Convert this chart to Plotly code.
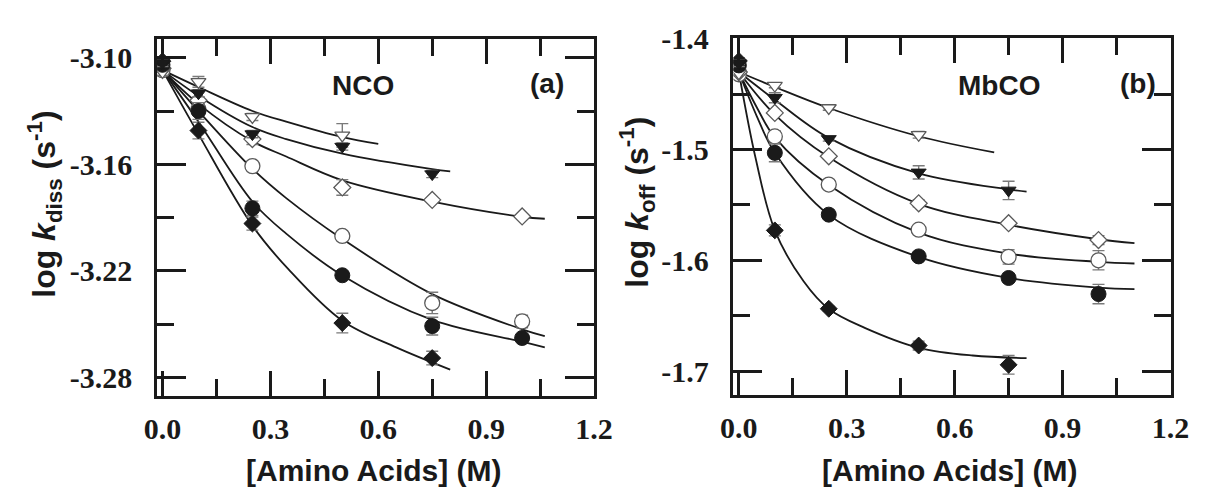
import plotly.graph_objects as go

# ---------------- data: NCO panel (a) ----------------
a_x_tri_open = [0, 0.1, 0.25, 0.5]
a_y_tri_open = [-3.108, -3.1136, -3.1333, -3.1437]
a_e_tri_open = [0.002, 0.003, 0.002, 0.0066]

a_x_tri_fill = [0, 0.1, 0.25, 0.5, 0.75]
a_y_tri_fill = [-3.103, -3.120, -3.143, -3.150, -3.1655]
a_e_tri_fill = [0.002, 0.002, 0.002, 0.002, 0.002]

a_x_dia_open = [0, 0.1, 0.25, 0.5, 0.75, 1.0]
a_y_dia_open = [-3.106, -3.124, -3.1458, -3.173, -3.180, -3.1893]
a_e_dia_open = [0.002, 0.002, 0.003, 0.0044, 0.001, 0.001]

a_x_circ_open = [0, 0.1, 0.25, 0.5, 0.75, 1.0]
a_y_circ_open = [-3.107, -3.129, -3.161, -3.2003, -3.238, -3.2484]
a_e_circ_open = [0.002, 0.002, 0.002, 0.002, 0.006, 0.0035]

a_x_circ_fill = [0, 0.1, 0.25, 0.5, 0.75, 1.0]
a_y_circ_fill = [-3.104, -3.130, -3.1847, -3.2224, -3.251, -3.2577]
a_e_circ_fill = [0.002, 0.0047, 0.004, 0.002, 0.005, 0.002]

a_x_dia_fill = [0, 0.1, 0.25, 0.5, 0.75]
a_y_dia_fill = [-3.102, -3.141, -3.1933, -3.2493, -3.269]
a_e_dia_fill = [0.002, 0.0047, 0.0037, 0.0055, 0.0038]

# fitted curves, panel (a)
a_fx_tri_open = [0, 0.1, 0.25, 0.344, 0.5, 0.6]
a_fy_tri_open = [-3.107, -3.1165, -3.130, -3.136, -3.1447, -3.1485]
a_fx_tri_fill = [0, 0.1, 0.25, 0.344, 0.5, 0.75, 0.8]
a_fy_tri_fill = [-3.107, -3.1215, -3.139, -3.1458, -3.154, -3.1627, -3.164]
a_fx_dia_open = [0, 0.1, 0.25, 0.344, 0.5, 0.75, 1.0, 1.063]
a_fy_dia_open = [-3.107, -3.126, -3.147, -3.1556, -3.169, -3.181, -3.1895, -3.1906]
a_fx_circ_open = [0, 0.1, 0.25, 0.344, 0.5, 0.75, 1.0, 1.063]
a_fy_circ_open = [-3.107, -3.130, -3.1625, -3.179, -3.202, -3.233, -3.2528, -3.2566]
a_fx_circ_fill = [0, 0.1, 0.25, 0.344, 0.5, 0.75, 1.0, 1.063]
a_fy_circ_fill = [-3.107, -3.136, -3.181, -3.199, -3.2225, -3.2475, -3.2598, -3.263]
a_fx_dia_fill = [0, 0.1, 0.25, 0.35, 0.5, 0.65, 0.8]
a_fy_dia_fill = [-3.107, -3.143, -3.1945, -3.219, -3.248, -3.263, -3.2755]

# ---------------- data: MbCO panel (b) ----------------
b_x_tri_open = [0, 0.1, 0.25, 0.5]
b_y_tri_open = [-1.431, -1.4422, -1.4625, -1.4867]
b_e_tri_open = [0.002, 0.002, 0.002, 0.003]

b_x_tri_fill = [0, 0.1, 0.25, 0.5, 0.75]
b_y_tri_fill = [-1.422, -1.4532, -1.4904, -1.5206, -1.5369]
b_e_tri_fill = [0.003, 0.0045, 0.002, 0.006, 0.0083]

b_x_dia_open = [0, 0.1, 0.25, 0.5, 0.75, 1.0]
b_y_dia_open = [-1.430, -1.4669, -1.5061, -1.5486, -1.5665, -1.5817]
b_e_dia_open = [0.002, 0.002, 0.002, 0.003, 0.002, 0.004]

b_x_circ_open = [0, 0.1, 0.25, 0.5, 0.75, 1.0]
b_y_circ_open = [-1.432, -1.4882, -1.5316, -1.5724, -1.597, -1.600]
b_e_circ_open = [0.002, 0.005, 0.002, 0.002, 0.0065, 0.0087]

b_x_circ_fill = [0, 0.1, 0.25, 0.5, 0.75, 1.0]
b_y_circ_fill = [-1.424, -1.503, -1.5588, -1.5965, -1.616, -1.6305]
b_e_circ_fill = [0.003, 0.008, 0.003, 0.003, 0.004, 0.0087]

b_x_dia_fill = [0, 0.1, 0.25, 0.5, 0.75]
b_y_dia_fill = [-1.420, -1.573, -1.6438, -1.677, -1.6944]
b_e_dia_fill = [0.003, 0.005, 0.002, 0.004, 0.0084]

# fitted curves, panel (b)
b_fx_tri_open = [0, 0.1, 0.25, 0.5, 0.71]
b_fy_tri_open = [-1.430, -1.4435, -1.4625, -1.488, -1.5026]
b_fx_tri_fill = [0, 0.1, 0.25, 0.5, 0.75, 0.8]
b_fy_tri_fill = [-1.430, -1.455, -1.4895, -1.5215, -1.536, -1.538]
b_fx_dia_open = [0, 0.1, 0.25, 0.5, 0.75, 1.0, 1.1]
b_fy_dia_open = [-1.430, -1.4685, -1.507, -1.549, -1.568, -1.581, -1.5846]
b_fx_circ_open = [0, 0.05, 0.1, 0.25, 0.5, 0.75, 1.0, 1.1]
b_fy_circ_open = [-1.430, -1.462, -1.489, -1.532, -1.575, -1.594, -1.6014, -1.6029]
b_fx_circ_fill = [0, 0.05, 0.1, 0.25, 0.5, 0.75, 1.0, 1.1]
b_fy_circ_fill = [-1.430, -1.470, -1.503, -1.559, -1.597, -1.616, -1.6247, -1.626]
b_fx_dia_fill = [0, 0.046, 0.1, 0.18, 0.25, 0.35, 0.5, 0.65, 0.8]
b_fy_dia_fill = [-1.430, -1.507, -1.573, -1.619, -1.644, -1.661, -1.679, -1.686, -1.6883]

x_tick_vals = [0, 0.3, 0.6, 0.9, 1.2]
x_tick_text = ["0.0", "0.3", "0.6", "0.9", "1.2"]
a_tick_vals = [-3.10, -3.16, -3.22, -3.28]
a_tick_text = ["-3.10", "-3.16", "-3.22", "-3.28"]
b_tick_vals = [-1.4, -1.5, -1.6, -1.7]
b_tick_text = ["-1.4", "-1.5", "-1.6", "-1.7"]

INK = "#1a1a1a"
GREY = "#5a5a5a"
ERR = "#7a7a7a"

fig = go.Figure()

def add_fit(xs, ys, xa, ya):
    fig.add_trace(go.Scatter(x=xs, y=ys, mode="lines", xaxis=xa, yaxis=ya,
                             line=dict(color=INK, width=1.8, shape="spline", smoothing=1.0),
                             hoverinfo="skip", showlegend=False))

def add_pts(xs, ys, es, symbol, filled, size, xa, ya):
    if filled:
        mk = dict(symbol=symbol, size=size, color=INK, line=dict(color=INK, width=1))
    else:
        mk = dict(symbol=symbol, size=size, color="white", line=dict(color=GREY, width=1.3))
    fig.add_trace(go.Scatter(x=xs, y=ys, mode="markers", xaxis=xa, yaxis=ya, marker=mk,
                             error_y=dict(type="data", array=es, color=ERR, thickness=1.4, width=6),
                             showlegend=False))

# panel (a) curves then points
for fx, fy in [(a_fx_tri_open, a_fy_tri_open), (a_fx_tri_fill, a_fy_tri_fill),
               (a_fx_dia_open, a_fy_dia_open), (a_fx_circ_open, a_fy_circ_open),
               (a_fx_circ_fill, a_fy_circ_fill), (a_fx_dia_fill, a_fy_dia_fill)]:
    add_fit(fx, fy, "x", "y")
add_pts(a_x_circ_open, a_y_circ_open, a_e_circ_open, "circle", False, 15, "x", "y")
add_pts(a_x_dia_open, a_y_dia_open, a_e_dia_open, "diamond", False, 13, "x", "y")
add_pts(a_x_tri_open, a_y_tri_open, a_e_tri_open, "triangle-down", False, 13, "x", "y")
add_pts(a_x_circ_fill, a_y_circ_fill, a_e_circ_fill, "circle", True, 15, "x", "y")
add_pts(a_x_dia_fill, a_y_dia_fill, a_e_dia_fill, "diamond", True, 13, "x", "y")
add_pts(a_x_tri_fill, a_y_tri_fill, a_e_tri_fill, "triangle-down", True, 13, "x", "y")

# panel (b) curves then points
for fx, fy in [(b_fx_tri_open, b_fy_tri_open), (b_fx_tri_fill, b_fy_tri_fill),
               (b_fx_dia_open, b_fy_dia_open), (b_fx_circ_open, b_fy_circ_open),
               (b_fx_circ_fill, b_fy_circ_fill), (b_fx_dia_fill, b_fy_dia_fill)]:
    add_fit(fx, fy, "x2", "y2")
add_pts(b_x_circ_open, b_y_circ_open, b_e_circ_open, "circle", False, 15, "x2", "y2")
add_pts(b_x_dia_open, b_y_dia_open, b_e_dia_open, "diamond", False, 13, "x2", "y2")
add_pts(b_x_tri_open, b_y_tri_open, b_e_tri_open, "triangle-down", False, 13, "x2", "y2")
add_pts(b_x_circ_fill, b_y_circ_fill, b_e_circ_fill, "circle", True, 15, "x2", "y2")
add_pts(b_x_dia_fill, b_y_dia_fill, b_e_dia_fill, "diamond", True, 13, "x2", "y2")
add_pts(b_x_tri_fill, b_y_tri_fill, b_e_tri_fill, "triangle-down", True, 13, "x2", "y2")

tick_font = dict(family="Liberation Serif", size=30, color=INK, weight="bold")

def x_axis(domain, anchor):
    return dict(domain=domain, anchor=anchor, range=[-0.015, 1.2005],
                tickmode="array", tickvals=x_tick_vals, ticktext=x_tick_text,
                ticks="inside", ticklen=25, tickwidth=2.5, tickcolor=INK,
                minor=dict(dtick=0.15, tick0=0, ticks="inside", ticklen=17, tickwidth=2.5, tickcolor=INK),
                showline=True, linewidth=2.5, linecolor=INK, mirror="ticks",
                showgrid=False, zeroline=False, tickfont=tick_font, ticklabelstandoff=4)

def y_axis(domain, anchor, rng, vals, text, dminor, t0):
    return dict(domain=domain, anchor=anchor, range=rng,
                tickmode="array", tickvals=vals, ticktext=text,
                ticks="inside", ticklen=29, tickwidth=2.5, tickcolor=INK,
                minor=dict(dtick=dminor, tick0=t0, ticks="inside", ticklen=17, tickwidth=2.5, tickcolor=INK),
                showline=True, linewidth=2.5, linecolor=INK, mirror="ticks",
                showgrid=False, zeroline=False, tickfont=tick_font, ticklabelstandoff=16)

W, H = 1212, 488
fig.update_layout(
    width=W, height=H, margin=dict(l=0, r=0, t=0, b=0),
    paper_bgcolor="white", plot_bgcolor="white", showlegend=False,
    xaxis=x_axis([148 / W, 597 / W], "y"),
    yaxis=y_axis([1 - 393 / H, 1 - 24 / H], "x", [-3.2904, -3.0896], a_tick_vals, a_tick_text, 0.03, -3.10),
    xaxis2=x_axis([740 / W, 1189 / W], "y2"),
    yaxis2=y_axis([1 - 392 / H, 1 - 23 / H], "x2", [-1.7218, -1.3995], b_tick_vals, b_tick_text, 0.05, -1.4),
)

title_font = dict(family="Liberation Sans", size=30, color=INK, weight="bold")
label_font = dict(family="Liberation Sans", size=28, color=INK, weight="bold")
ytitle_font = dict(family="Liberation Sans", size=32, color=INK, weight="bold")

def ann(text, px, py, font, angle=0):
    fig.add_annotation(text=text, x=px / W, y=1 - py / H, xref="paper", yref="paper",
                       showarrow=False, font=font, textangle=angle,
                       xanchor="center", yanchor="middle")

ann("[Amino Acids] (M)", 371, 470, title_font)
ann("[Amino Acids] (M)", 962, 470, title_font)
ann("log <i>k</i><sub>diss</sub> (s<sup>-1</sup>)", 32, 195, ytitle_font, -90)
ann("log <i>k</i><sub>off</sub> (s<sup>-1</sup>)", 641, 193, ytitle_font, -90)
ann("NCO", 360, 72, label_font)
ann("(a)", 548, 70, label_font)
ann("MbCO", 1013, 72, label_font)
ann("(b)", 1156, 70, label_font)

fig.write_html("out.html")
